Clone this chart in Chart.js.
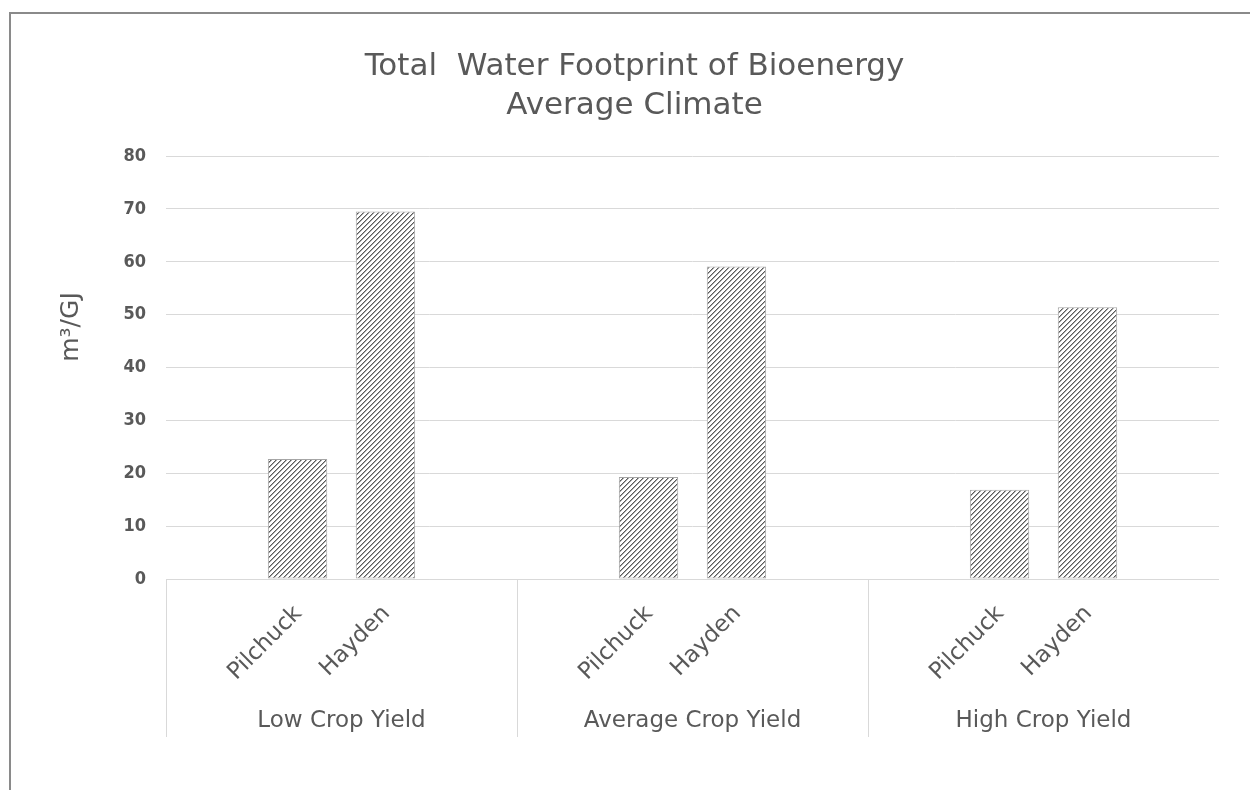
<!DOCTYPE html>
<html>
<head>
<meta charset="utf-8">
<script src="https://cdn.jsdelivr.net/npm/chart.js@4.4.0/dist/chart.umd.min.js"></script>
<style>
  html, body { margin: 0; padding: 0; background: #ffffff; }
  #wrap { position: relative; width: 1250px; height: 790px; overflow: hidden; background: #ffffff; }
  #frame { position: absolute; left: 9px; top: 12px; width: 1400px; height: 900px; border: 2px solid #8a8a8a; pointer-events: none; }
  canvas { position: absolute; left: 50px; top: 0; }
</style>
</head>
<body>
<div id="wrap">
  <canvas id="c" width="1169" height="790"></canvas>
  <div id="frame"></div>
</div>
<script>
// ---- data ----
const titleLines = ['Total  Water Footprint of Bioenergy', 'Average Climate'];
const groups = ['Low Crop Yield', 'Average Crop Yield', 'High Crop Yield'];
const seriesNames = ['Pilchuck', 'Hayden'];
const pilchuck = [22.7, 19.3, 16.9];
const hayden = [69.5, 59.1, 51.4];
const yTicks = [0, 10, 20, 30, 40, 50, 60, 70, 80];
const yTitle = 'm³/GJ';

const FONT = '"DejaVu Sans", sans-serif';
const FONTC = '"DejaVu Sans Condensed", "DejaVu Sans", sans-serif';
const TXT = '#595959';
const GRID = '#d9d9d9';

function makeHatch() {
  const n = 5;
  const p = document.createElement('canvas');
  p.width = n; p.height = n;
  const g = p.getContext('2d');
  g.fillStyle = '#ffffff';
  g.fillRect(0, 0, n, n);
  for (let y = 0; y < n; y++) {
    for (let x = 0; x < n; x++) {
      const k = (x + y) % n;
      if (k === 0) { g.fillStyle = '#5a5a5a'; g.fillRect(x, y, 1, 1); }
      else if (k === 1) { g.fillStyle = '#a8a8a8'; g.fillRect(x, y, 1, 1); }
    }
  }
  return document.getElementById('c').getContext('2d').createPattern(p, 'repeat');
}
const hatch = makeHatch();

const extraText = {
  id: 'extraText',
  afterDraw(chart) {
    const ctx = chart.ctx;
    ctx.save();
    // y axis title
    ctx.fillStyle = TXT;
    ctx.font = '25px ' + FONT;
    ctx.translate(21, 327);
    ctx.rotate(-Math.PI / 2);
    ctx.textAlign = 'center';
    ctx.textBaseline = 'middle';
    ctx.fillText(yTitle, 0, 0);
    ctx.restore();

    // rotated series labels under each bar
    ctx.save();
    ctx.fillStyle = TXT;
    ctx.font = '23px ' + FONT;
    ctx.textAlign = 'right';
    ctx.textBaseline = 'middle';
    const yBase = chart.chartArea.bottom + 31;
    chart.data.datasets.forEach((ds, di) => {
      const meta = chart.getDatasetMeta(di);
      meta.data.forEach((bar) => {
        ctx.save();
        ctx.translate(bar.x + 1, yBase);
        ctx.rotate(-Math.PI / 4);
        ctx.fillText(ds.label, 0, 0);
        ctx.restore();
      });
    });
    ctx.restore();
  }
};

new Chart(document.getElementById('c'), {
  type: 'bar',
  data: {
    labels: groups,
    datasets: [
      { label: seriesNames[0], data: pilchuck },
      { label: seriesNames[1], data: hayden }
    ].map(d => Object.assign(d, {
      backgroundColor: hatch,
      borderColor: '#a6a6a6',
      borderWidth: 1,
      borderSkipped: false,
      categoryPercentage: 0.501,
      barPercentage: 0.675
    }))
  },
  options: {
    responsive: false,
    animation: false,
    devicePixelRatio: 1,
    layout: { padding: 0 },
    plugins: {
      legend: { display: false },
      tooltip: { enabled: false },
      title: {
        display: true,
        text: titleLines,
        color: TXT,
        font: { family: FONT, size: 31, weight: 'normal', lineHeight: 1.26 },
        padding: { top: 47, bottom: 31 }
      }
    },
    scales: {
      x: {
        type: 'category',
        afterFit(s) { s.height = 211; },
        grid: { display: true, drawOnChartArea: false, drawTicks: true, tickLength: 158, color: GRID, lineWidth: 1, offset: true },
        border: { display: true, color: GRID, width: 1 },
        ticks: { color: TXT, font: { family: FONT, size: 23 }, padding: -30, maxRotation: 0, autoSkip: false }
      },
      y: {
        min: 0, max: 80,
        afterFit(s) { s.width = 116; },
        afterBuildTicks(s) { s.ticks = yTicks.map(v => ({ value: v })); },
        grid: { color: GRID, lineWidth: 1, drawTicks: false },
        border: { display: false },
        ticks: { color: TXT, font: { family: FONTC, size: 18, weight: 'bold' }, padding: 20 }
      }
    }
  },
  plugins: [extraText]
});
</script>
</body>
</html>
